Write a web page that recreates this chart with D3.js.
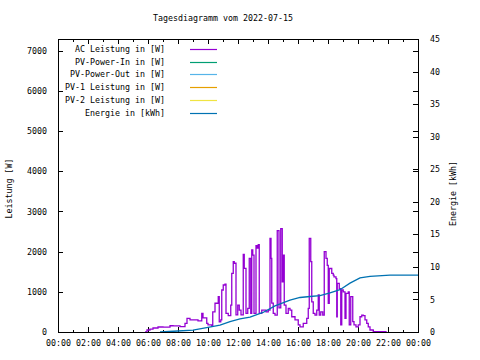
<!DOCTYPE html>
<html>
<head>
<meta charset="utf-8">
<script src="https://cdn.jsdelivr.net/npm/d3@7"></script>
<style>
  html, body { margin: 0; padding: 0; background: #fff; }
  svg { display: block; }
  text { font-family: "DejaVu Sans Mono", "Liberation Mono", monospace; font-size: 8.3px; fill: #000; }
</style>
</head>
<body>
<svg id="chart" width="480" height="360"></svg>
<script>
// ---------- data ----------
const titleText = "Tagesdiagramm vom 2022-07-15";
const leftLabel = "Leistung [W]";
const rightLabel = "Energie [kWh]";

const seriesNames = ["AC Leistung in [W]", "PV-Power-In in [W]", "PV-Power-Out in [W]",
                     "PV-1 Leistung in [W]", "PV-2 Leistung in [W]", "Energie in [kWh]"];
const seriesColors = ["#9400d3", "#009e73", "#56b4e9", "#e69f00", "#f0e442", "#0072b2"];

const xTickHours = [0, 2, 4, 6, 8, 10, 12, 14, 16, 18, 20, 22, 24];
const leftTicks = [0, 1000, 2000, 3000, 4000, 5000, 6000, 7000];
const rightTicks = [0, 5, 10, 15, 20, 25, 30, 35, 40, 45];

const acTimes = ["05:48","05:56","06:08","06:20","06:40","07:00","07:28","07:40","08:08","08:28",
  "08:36","08:48","09:00","09:20","09:35","09:40","09:55","10:00","10:15","10:19",
  "10:28","10:41","10:45","10:51","10:55","11:01","11:08","11:12","11:21","11:31",
  "11:35","11:41","11:45","11:52","11:59","12:05","12:12","12:21","12:25","12:32",
  "12:39","12:45","12:51","12:55","12:59","13:04","13:12","13:17","13:21","13:25",
  "13:35","13:41","13:52","14:01","14:08","14:12","14:15","14:21","14:28","14:37",
  "14:44","14:51","14:57","15:01","15:05","15:12","15:21","15:28","15:35","15:48",
  "16:01","16:08","16:21","16:35","16:41","16:45","16:51","16:55","17:01","17:08",
  "17:15","17:21","17:25","17:31","17:39","17:45","17:52","17:57","18:01","18:05",
  "18:15","18:21","18:24","18:32","18:35","18:37","18:45","18:51","18:55","19:01",
  "19:08","19:12","19:21","19:25","19:31","19:39","19:44","19:52","20:01","20:08",
  "20:15","20:21","20:28","20:35","20:41","20:48","21:01","21:41","21:52"];
const acWatts = [0,50,70,100,125,120,155,150,135,215,
  340,300,300,275,465,350,215,175,150,500,
  715,880,250,300,1045,1170,1190,465,405,670,
  1460,1750,1710,425,670,545,425,1930,1585,465,
  590,1830,465,2040,1915,465,2150,2090,2175,465,
  545,545,500,545,2330,1830,720,465,420,2520,
  600,2570,1250,1915,670,465,590,545,380,300,
  175,130,215,340,590,2330,1750,750,465,420,
  545,920,420,500,420,2000,1830,1660,710,1580,
  1460,1415,1370,1330,380,1210,1080,175,1045,1000,
  340,960,1000,175,880,260,175,130,175,380,
  420,405,300,215,130,50,10,10,0];

const energyTimes = ["06:48","08:00","09:00","10:00","10:48","11:28","12:08","12:48","13:40","14:28",
  "15:28","16:08","16:48","17:28","18:08","18:48","19:28","20:08","20:48","22:08","24:00"];
const energyKWh = [0,0.15,0.3,0.7,1.05,1.6,2.0,2.3,3.0,4.0,
  4.9,5.3,5.45,5.6,6.0,6.5,7.5,8.3,8.55,8.75,8.75];

// ---------- helpers ----------
const toHours = s => { const [h, m] = s.split(":").map(Number); return h + m / 60; };
const pad2 = n => String(n).padStart(2, "0");

const acData = acTimes.map((t, i) => ({ t: toHours(t), v: acWatts[i] }));
const energyData = energyTimes.map((t, i) => ({ t: toHours(t), v: energyKWh[i] }));

// ---------- layout ----------
const L = 58, R = 418, T = 39, B = 332;
const svg = d3.select("#chart");

const x = d3.scaleLinear().domain([0, 24]).range([L, R]);
const yL = d3.scaleLinear().domain([0, 7290]).range([B, T]);
const yR = d3.scaleLinear().domain([0, 45]).range([B, T]);

// title
svg.append("text").attr("x", 223).attr("y", 21).attr("text-anchor", "middle").text(titleText);

// axes
const axG = svg.append("g").attr("shape-rendering", "crispEdges");

function styleAxis(g) {
  g.select(".domain").remove();
  g.selectAll("line").attr("stroke", "#000").attr("stroke-width", 1);
  g.attr("font-family", null).attr("font-size", null);
}

// bottom major
axG.append("g").attr("transform", `translate(0,${B})`)
  .call(d3.axisBottom(x).tickValues(xTickHours).tickSizeInner(-5).tickSizeOuter(0).tickPadding(8)
    .tickFormat(h => pad2(h % 24) + ":00"))
  .call(styleAxis);
// bottom minor
axG.append("g").attr("transform", `translate(0,${B})`)
  .call(d3.axisBottom(x).tickValues(d3.range(1, 24, 2)).tickSizeInner(-2.5).tickSizeOuter(0).tickFormat(""))
  .call(styleAxis);
// top mirror
axG.append("g").attr("transform", `translate(0,${T})`)
  .call(d3.axisTop(x).tickValues(xTickHours).tickSizeInner(-5).tickSizeOuter(0).tickFormat(""))
  .call(styleAxis);
axG.append("g").attr("transform", `translate(0,${T})`)
  .call(d3.axisTop(x).tickValues(d3.range(1, 24, 2)).tickSizeInner(-2.5).tickSizeOuter(0).tickFormat(""))
  .call(styleAxis);
// left
axG.append("g").attr("transform", `translate(${L},0)`)
  .call(d3.axisLeft(yL).tickValues(leftTicks).tickSizeInner(-5).tickSizeOuter(0).tickPadding(11)
    .tickFormat(d => String(d)))
  .call(styleAxis);
// right mirror of left ticks
axG.append("g").attr("transform", `translate(${R},0)`)
  .call(d3.axisRight(yL).tickValues(leftTicks).tickSizeInner(-5).tickSizeOuter(0).tickFormat(""))
  .call(styleAxis);
// right y2
axG.append("g").attr("transform", `translate(${R},0)`)
  .call(d3.axisRight(yR).tickValues(rightTicks).tickSizeInner(-5).tickSizeOuter(0).tickPadding(12))
  .call(styleAxis);

// axis labels
svg.append("text").attr("transform", `translate(12,${(T + B) / 2 + 3}) rotate(-90)`)
  .attr("text-anchor", "middle").text(leftLabel);
svg.append("text").attr("transform", `translate(456,${(T + B) / 2 + 8}) rotate(-90)`)
  .attr("text-anchor", "middle").text(rightLabel);

// data lines
const acLine = d3.line().x(d => x(d.t)).y(d => yL(d.v)).curve(d3.curveStepAfter);
const enLine = d3.line().x(d => x(d.t)).y(d => yR(d.v)).curve(d3.curveLinear);

svg.append("path").datum(acData).attr("d", acLine)
  .attr("fill", "none").attr("stroke", seriesColors[0]).attr("stroke-width", 1.3);
svg.append("path").datum(energyData).attr("d", enLine)
  .attr("fill", "none").attr("stroke", seriesColors[5]).attr("stroke-width", 1.3);

// legend
const lg = svg.append("g");
seriesNames.forEach((name, i) => {
  const yy = 49 + i * 12.7;
  lg.append("text").attr("x", 165).attr("y", yy + 3).attr("text-anchor", "end").text(name);
  lg.append("line").attr("x1", 190).attr("x2", 217).attr("y1", Math.round(yy) + 0.5).attr("y2", Math.round(yy) + 0.5)
    .attr("stroke", seriesColors[i]).attr("stroke-width", 1.2);
});

// border
svg.append("rect").attr("x", L + 0.5).attr("y", T + 0.5).attr("width", R - L).attr("height", B - T)
  .attr("fill", "none").attr("stroke", "#000").attr("stroke-width", 1).attr("shape-rendering", "crispEdges");
</script>
</body>
</html>
